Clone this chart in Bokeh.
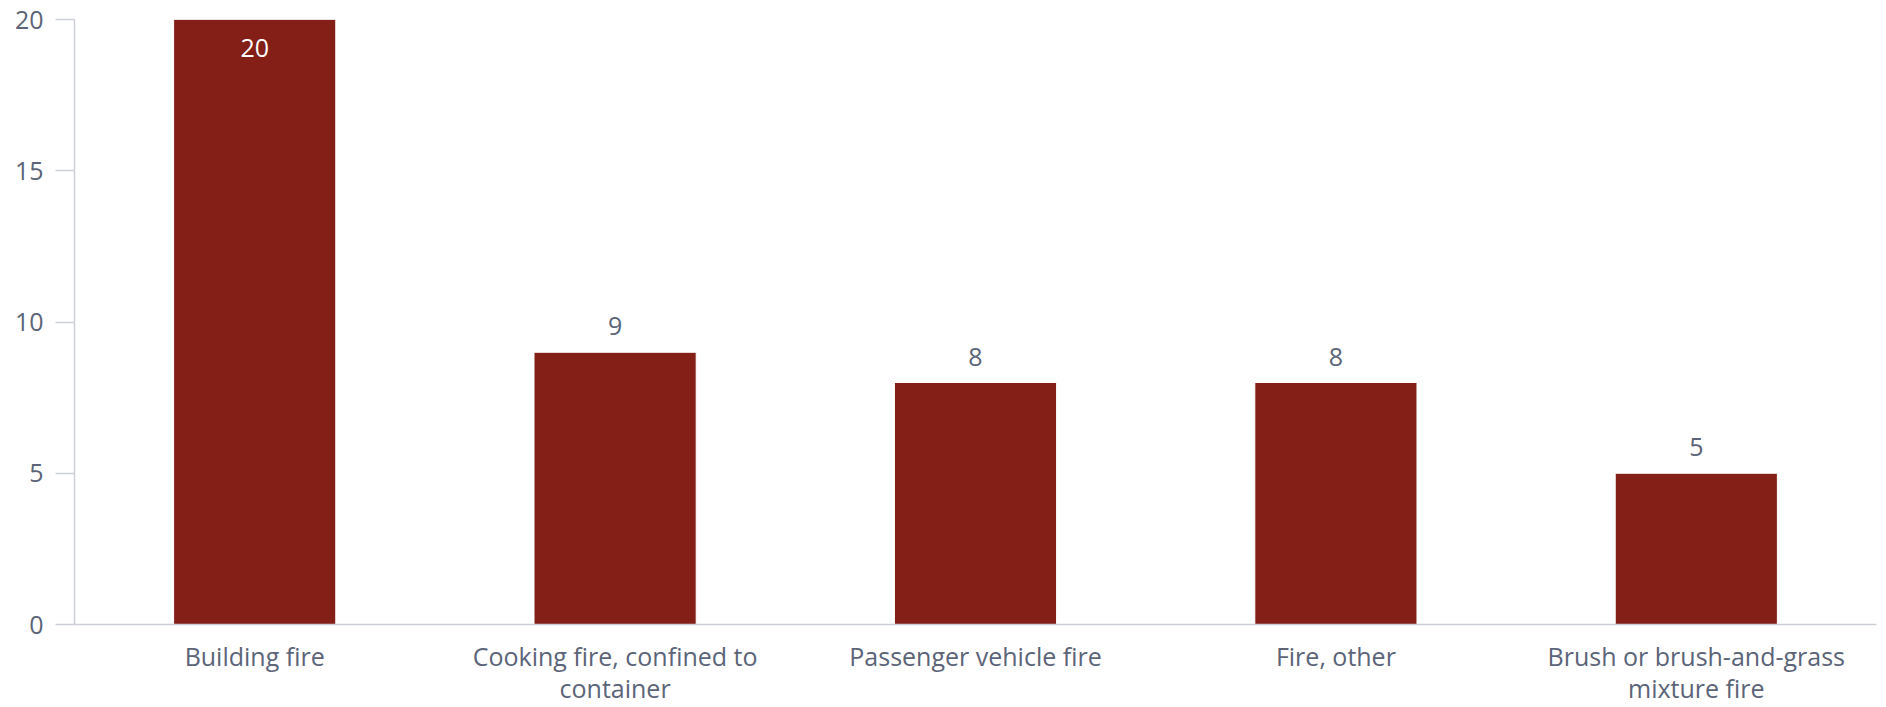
import json

from bokeh.plotting import figure
from bokeh.models import (Range1d, FactorRange, ColumnDataSource, CategoricalAxis,
                          CustomJSTickFormatter)
from bokeh.core.properties import value
from bokeh.embed import file_html
from bokeh.resources import INLINE

# Incident counts by fire type
categories = [
    "Building fire",
    "Cooking fire, confined to container",
    "Passenger vehicle fire",
    "Fire, other",
    "Brush or brush-and-grass mixture fire",
]
counts = [20, 9, 8, 8, 5]
y_ticks = [0, 5, 10, 15, 20]

# Long category names are wrapped onto two lines under the bars
first_lines = {
    "Cooking fire, confined to container": "Cooking fire, confined to",
    "Brush or brush-and-grass mixture fire": "Brush or brush-and-grass",
}
second_lines = {
    "Cooking fire, confined to container": "container",
    "Brush or brush-and-grass mixture fire": "mixture fire",
}

FONT = "Open Sans"
TEXT_COLOR = "#5b6478"
AXIS_COLOR = "#ccd0d6"
BAR_COLOR = "#841f18"
Y_MAX = 20

p = figure(
    frame_width=1802, frame_height=605,
    x_range=FactorRange(factors=categories, range_padding=0),
    y_range=Range1d(0, Y_MAX),
    output_backend="svg", toolbar_location=None,
    min_border_left=74, min_border_right=10,
    min_border_top=19, min_border_bottom=0,
)
p.outline_line_color = None
p.xgrid.grid_line_color = None
p.ygrid.grid_line_color = None
p.background_fill_color = "white"
p.border_fill_color = "white"

src = ColumnDataSource(dict(cat=categories, count=counts))
p.vbar(x="cat", top="count", width=0.45, source=src,
       fill_color=BAR_COLOR, line_color="white", line_width=1)

# Value labels: above the bar, or inside it when the bar reaches the top
out_cats = [c for c, v in zip(categories, counts) if v < Y_MAX]
out_vals = [v for v in counts if v < Y_MAX]
in_cats = [c for c, v in zip(categories, counts) if v >= Y_MAX]
in_vals = [v for v in counts if v >= Y_MAX]

p.text(x=out_cats, y=out_vals, text=[str(v) for v in out_vals],
       text_font=value(FONT), text_font_size="25px", text_color=TEXT_COLOR,
       text_align="center", text_baseline="alphabetic", y_offset=-26)
p.text(x=in_cats, y=in_vals, text=[str(v) for v in in_vals],
       text_font=value(FONT), text_font_size="25px", text_color="white",
       text_align="center", text_baseline="alphabetic", y_offset=28)

# Y axis
ya = p.yaxis[0]
ya.ticker = y_ticks
ya.axis_line_color = AXIS_COLOR
ya.axis_line_width = 1.5
ya.major_tick_line_color = AXIS_COLOR
ya.major_tick_line_width = 1.5
ya.major_tick_out = 19
ya.major_tick_in = 0
ya.minor_tick_line_color = None
ya.major_label_standoff = 12
ya.major_label_text_font = FONT
ya.major_label_text_font_size = "25px"
ya.major_label_text_color = TEXT_COLOR


def style_x(axis, standoff):
    axis.major_tick_line_color = None
    axis.major_tick_out = 0
    axis.major_tick_in = 0
    axis.minor_tick_line_color = None
    axis.major_label_standoff = standoff
    axis.major_label_text_font = FONT
    axis.major_label_text_font_size = "25px"
    axis.major_label_text_color = TEXT_COLOR


def line_formatter(mapping, fallback_to_tick):
    fallback = "tick" if fallback_to_tick else '""'
    code = f"const m = {json.dumps(mapping)}; return (tick in m) ? m[tick] : {fallback};"
    return CustomJSTickFormatter(code=code)


# X axis: first line of each category name
xa = p.xaxis[0]
style_x(xa, 14)
xa.axis_line_color = AXIS_COLOR
xa.axis_line_width = 1.5
xa.formatter = line_formatter(first_lines, True)

# Second axis below it carries the wrapped remainder of long names
xa2 = CategoricalAxis()
style_x(xa2, -5)
xa2.axis_line_color = None
xa2.formatter = line_formatter(second_lines, False)
p.add_layout(xa2, "below")

open("out.html", "w").write(file_html(p, INLINE))
